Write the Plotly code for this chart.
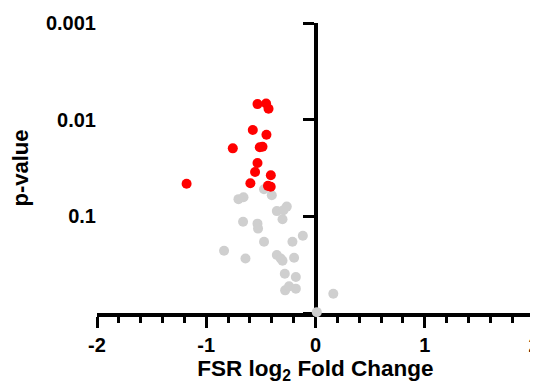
import plotly.graph_objects as go

# Significant (red) points: log2 fold change and p-value
sig_fc = [-0.531, -0.452, -0.430, -0.574, -0.449, -0.757, -0.510, -0.485,
          -0.531, -0.553, -0.409, -1.180, -0.596, -0.435, -0.410]
sig_p = [0.0069, 0.0068, 0.0077, 0.0128, 0.0143, 0.0198, 0.0193, 0.0191,
         0.0281, 0.0348, 0.0376, 0.0461, 0.0454, 0.0484, 0.0495]

# Non-significant (grey) points
ns_fc = [-0.471, -0.400, -0.705, -0.659, -0.354, -0.263, -0.293, -0.302,
         -0.663, -0.531, -0.526, -0.471, -0.211, -0.116, -0.837, -0.641,
         -0.354, -0.318, -0.302, -0.196, -0.281, -0.180, -0.278, -0.242,
         -0.180, 0.163, 0.012]
ns_p = [0.0524, 0.0604, 0.0664, 0.0634, 0.0883, 0.0793, 0.0863, 0.107,
        0.114, 0.119, 0.134, 0.183, 0.183, 0.159, 0.227, 0.273,
        0.251, 0.273, 0.288, 0.268, 0.392, 0.424, 0.583, 0.530,
        0.560, 0.631, 0.98]

x_ticks = [-2, -1, 0, 1, 2]
x_labels = ["-2", "-1", "0", "1", "2"]
y_ticks = [0.001, 0.01, 0.1]
y_labels = ["0.001", "0.01", "0.1"]

FONT = "Liberation Sans, Arial, sans-serif"

fig = go.Figure()
fig.add_trace(go.Scatter(x=ns_fc, y=ns_p, mode="markers", yaxis="y",
                         marker=dict(color="#cfcfcf", size=10),
                         cliponaxis=False, showlegend=False))
fig.add_trace(go.Scatter(x=sig_fc, y=sig_p, mode="markers", yaxis="y2",
                         marker=dict(color="#ff0000", size=10),
                         cliponaxis=False, showlegend=False))

# The page body adds an 8px offset, so the figure is sized to fill the rest
fig.update_layout(
    width=530, height=376,
    margin=dict(l=89, r=4, t=15, b=71, autoexpand=False),
    paper_bgcolor="white", plot_bgcolor="white",
    font=dict(family=FONT, color="black"),
    xaxis=dict(
        range=[-2, 2], domain=[0, 1], automargin=False,
        tickvals=x_ticks, ticktext=["<b>%s</b>" % t for t in x_labels],
        tickfont=dict(size=20), ticklabeloverflow="allow",
        ticks="outside", ticklen=11, tickwidth=3, tickcolor="black",
        minor=dict(dtick=0.2, ticks="outside", ticklen=6, tickwidth=3, tickcolor="black"),
        showline=True, linewidth=3.5, linecolor="black",
        showgrid=False, zeroline=False, layer="below traces",
        title=dict(text="<b>FSR log<sub>2</sub> Fold Change</b>",
                   font=dict(size=22.5), standoff=14),
    ),
    yaxis=dict(
        type="log", range=[0, -3], automargin=False,
        tickvals=y_ticks, ticktext=["<b>%s</b>" % t for t in y_labels],
        tickfont=dict(size=20), ticklabeloverflow="allow",
        ticks="", showline=False, showgrid=False, zeroline=False,
        title=dict(text="<b>p-value</b>", font=dict(size=22), standoff=14),
    ),
    yaxis2=dict(
        type="log", range=[0, -3], overlaying="y", anchor="free", position=0.5,
        automargin=False,
        tickvals=[0.001, 0.01, 0.1, 1], showticklabels=False,
        ticks="outside", ticklen=11, tickwidth=3, tickcolor="black",
        showline=True, linewidth=3.5, linecolor="black",
        showgrid=False, zeroline=False, layer="below traces",
    ),
)

fig.write_html("out.html")
